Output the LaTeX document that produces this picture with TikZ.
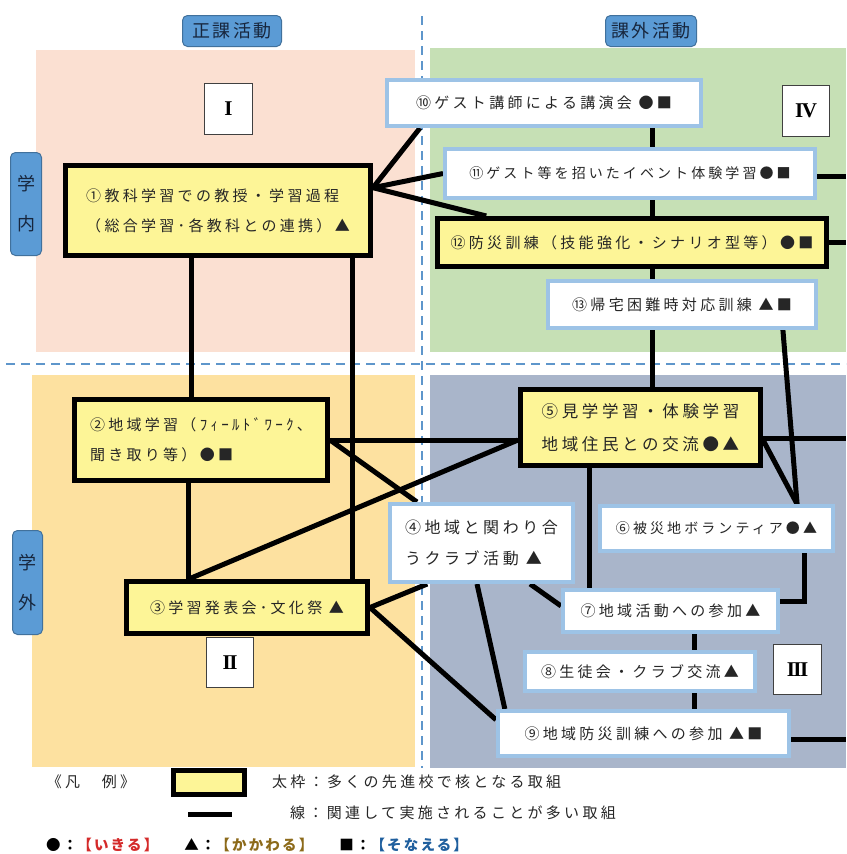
\documentclass[tikz,border=0pt]{standalone}
\usepackage{fontspec}
\setmainfont{Noto Sans CJK JP}
\newfontfamily\jp[LetterSpace=22]{Noto Sans CJK JP}
\newfontfamily\jpl[LetterSpace=15]{Noto Sans CJK JP}
\newfontfamily\jphd[LetterSpace=12]{Noto Sans CJK JP}
\newfontfamily\rmn{Liberation Serif}
\usetikzlibrary{calc}
\pgfdeclarelayer{bgl}
\pgfdeclarelayer{dashl}
\pgfdeclarelayer{linkl}
\pgfsetlayers{bgl,dashl,linkl,main}
\definecolor{pinkr}{HTML}{FBE0D2}
\definecolor{greenr}{HTML}{C6E0B5}
\definecolor{oranger}{HTML}{FDE1A0}
\definecolor{greyr}{HTML}{A9B5CA}
\definecolor{boxyel}{HTML}{FDF597}
\definecolor{lblue}{HTML}{9DC3E6}
\definecolor{hdblue}{HTML}{5B9BD5}
\definecolor{hdline}{HTML}{41719C}
\definecolor{hdtxt}{HTML}{17263D}
\definecolor{txt}{HTML}{262626}
\definecolor{dashc}{HTML}{5E96CB}
\definecolor{redc}{HTML}{D42A2A}
\definecolor{olivec}{HTML}{8C6A1A}
\definecolor{bluec}{HTML}{1F5F9E}
\tikzset{
  core/.style={draw=black, line width=5pt, fill=boxyel, inner sep=0pt, align=left, text=txt},
  sub/.style={draw=lblue, line width=4pt, fill=white, inner sep=0pt, align=left, text=txt},
  romanbox/.style={draw=black!75, line width=1.2pt, fill=white, inner sep=0pt, text=black, font=\rmn\bfseries\fontsize{21}{21}\selectfont},
  headbox/.style={draw=hdline, line width=1pt, fill=hdblue, rounded corners=5pt, inner sep=0pt, text=hdtxt, font=\jphd\fontsize{18}{18}\selectfont},
  vheadbox/.style={headbox, align=center, font=\jphd\fontsize{18}{40}\selectfont},
  sz/.style 2 args={minimum width=#1, minimum height=#2},
  link/.style={line width=5pt, draw=black},
  dashline/.style={draw=dashc, line width=2.5pt, dash pattern=on 9pt off 6pt},
  ftx/.style={font=\jp\fontsize{15}{30}\selectfont},
  ftxs/.style={font=\jp\fontsize{14}{30}\selectfont},
  ftxl/.style={font=\jp\fontsize{16.5}{33}\selectfont},
  ftxm/.style={font=\jp\fontsize{16}{31}\selectfont},
  lgtext/.style={inner sep=0pt, text=txt, font=\jp\fontsize{15}{20}\selectfont},
}
\begin{document}
\begin{tikzpicture}[x=1pt,y=-1pt]
\useasboundingbox (0,0) rectangle (846,854);
\begin{pgfonlayer}{bgl}
\fill[white] (0,0) rectangle (846,854);
\fill[pinkr] (36,50) rectangle (415,352);
\fill[greenr] (430,48) rectangle (846,352);
\fill[oranger] (32,375) rectangle (415,767);
\fill[greyr] (430,375) rectangle (846,768);
\end{pgfonlayer}
\begin{pgfonlayer}{dashl}
\coordinate (dv1) at (422,16);
\coordinate (dv2) at (422,768);
\coordinate (dh1) at (6,364);
\coordinate (dh2) at (846,364);
\draw[dashline] (dv1) -- (dv2);
\draw[dashline] (dh1) -- (dh2);
\end{pgfonlayer}

% headers
\node[headbox, sz={99pt}{31pt}] (hseika) at (232,31) {正課活動};
\node[headbox, sz={91pt}{31pt}] (hkagai) at (651,31) {課外活動};
\node[vheadbox, sz={31pt}{103pt}] (hnai) at (26,204) {学\\内};
\node[vheadbox, sz={30pt}{104pt}] (hgai) at (27.5,582.5) {学\\外};

% roman numerals
\node[romanbox, sz={48pt}{51pt}] (r1) at (228.5,109) {I};
\node[romanbox, sz={47pt}{51pt}] (r4) at (806,111) {I\kern-1.5pt V};
\node[romanbox, sz={47pt}{50pt}] (r2) at (230,662.5) {I\kern-1.5pt I};
\node[romanbox, sz={48pt}{50pt}] (r3) at (797.5,669.5) {I\kern-1.5pt I\kern-1.5pt I};

% activity boxes
\node[core, ftx, sz={305pt}{90pt}] (n1) at (218,210.5) {①教科学習での教授・学習過程\\（総合学習･各教科との連携）▲};
\node[core, ftx, sz={253pt}{81pt}] (n2) at (201,440) {②地域学習（ﾌｨｰﾙﾄﾞﾜｰｸ、\\聞き取り等）●■};
\node[core, ftx, sz={241pt}{52pt}] (n3) at (247,607.5) {③学習発表会･文化祭 ▲};
\node[sub, ftxm, sz={183pt}{78pt}] (n4) at (481.5,543) {④地域と関わり合\\うクラブ活動 ▲};
\node[core, ftxl, sz={240pt}{76pt}] (n5) at (640.5,427.5) {⑤見学学習・体験学習\\地域住民との交流●▲};
\node[sub, ftxs, sz={233pt}{45pt}] (n6) at (716.5,528.5) {⑥被災地ボランティア●▲};
\node[sub, ftx, sz={215pt}{42pt}] (n7) at (670.5,611) {⑦地域活動への参加▲};
\node[sub, ftx, sz={230pt}{39pt}] (n8) at (640,671.5) {⑧生徒会・クラブ交流▲};
\node[sub, ftx, sz={291pt}{45pt}] (n9) at (643.5,733.5) {⑨地域防災訓練への参加 ▲■};
\node[sub, ftx, sz={314pt}{46pt}] (n10) at (544,103) {⑩ゲスト講師による講演会 ●■};
\node[sub, ftxs, sz={370pt}{49pt}] (n11) at (630,173.5) {⑪ゲスト等を招いたイベント体験学習●■};
\node[core, ftx, sz={389pt}{48pt}] (n12) at (632,242.5) {⑫防災訓練（技能強化・シナリオ型等）●■};
\node[sub, ftx, sz={268pt}{47pt}] (n13) at (682,304.5) {⑬帰宅困難時対応訓練 ▲■};

\begin{pgfonlayer}{linkl}
% fan from 1
\coordinate (p1r) at ($(n1.north east)!0.26!(n1.south east)$);
\draw[link] (p1r) -- ($(n10.south west)!0.11!(n10.south east)$);
\draw[link] (p1r) -- (n11.west);
\draw[link] (p1r) -- ($(n12.north west)!0.13!(n12.north east)$);
% verticals in left column
\coordinate (p1a) at ($(n1.south west)!0.416!(n1.south east)$);
\draw[link] (p1a) -- (p1a |- n2.north);
\coordinate (p1b) at ($(n1.south west)!0.935!(n1.south east)$);
\draw[link] (p1b) -- (p1b |- n3.north);
\coordinate (p2b) at ($(n2.south west)!0.453!(n2.south east)$);
\draw[link] (p2b) -- (p2b |- n3.north);
% 3 - 5
\coordinate (p3t) at (p2b |- n3.north);
\coordinate (p5l) at ($(n5.north west)!0.654!(n5.south west)$);
\draw[link] (p3t) -- (p5l);
% 2 - 5, 2 - 4
\draw[link] (n2.east) -- (n2.east -| n5.west);
\draw[link] (n2.east) -- ($(n4.north west)!0.155!(n4.north east)$);
% 3 - 4, 3 - 9
\draw[link] (n3.east) -- ($(n4.south west)!0.21!(n4.south east)$);
\draw[link] (n3.east) -- ($(n9.north west)!0.22!(n9.south west)$);
% 4 - 9, 4 - 7
\draw[link] ($(n4.south west)!0.476!(n4.south east)$) -- ($(n9.north west)!0.03!(n9.north east)$);
\draw[link] ($(n4.south west)!0.76!(n4.south east)$) -- ($(n7.north west)!0.39!(n7.south west)$);
% 5 - 7
\coordinate (p5b) at ($(n5.south west)!0.29!(n5.south east)$);
\draw[link] (p5b) -- (p5b |- n7.north);
% 5 - 6, 13 - 6
\coordinate (p6t) at ($(n6.north west)!0.84!(n6.north east)$);
\draw[link] ($(n5.north east)!0.654!(n5.south east)$) -- (p6t);
\draw[link] ($(n13.south west)!0.871!(n13.south east)$) -- (p6t);
% 6 - 7 elbow
\draw[link] ($(n6.south west)!0.873!(n6.south east)$) |- ($(n7.north east)!0.30!(n7.south east)$);
% chain 10-11-12-13-5
\coordinate (px) at ($(n10.south west)!0.84!(n10.south east)$);
\draw[link] (px) -- (px |- n11.north);
\draw[link] (px |- n11.south) -- (px |- n12.north);
\draw[link] (px |- n12.south) -- (px |- n13.north);
\draw[link] (px |- n13.south) -- (px |- n5.north);
% 7 - 8 - 9
\coordinate (p7b) at ($(n7.south west)!0.61!(n7.south east)$);
\draw[link] (p7b) -- (p7b |- n8.north);
\draw[link] (p7b |- n8.south) -- (p7b |- n9.north);
% lines to the right edge
\coordinate (rim) at (846,0);
\coordinate (q11) at ($(n11.north east)!0.55!(n11.south east)$);
\draw[link] (q11) -- (q11 -| rim);
\draw[link] (n12.east) -- (n12.east -| rim);
\coordinate (q5) at ($(n5.north east)!0.63!(n5.south east)$);
\draw[link] (q5) -- (q5 -| rim);
\coordinate (q9) at ($(n9.north east)!0.63!(n9.south east)$);
\draw[link] (q9) -- (q9 -| rim);
\end{pgfonlayer}

% legend
\node[lgtext, anchor=center] (lg0) at (91,782) {《凡　例》};
\node[core, sz={71pt}{24pt}] (lgbox) at (209,782.5) {};
\node[lgtext, anchor=west] (lg1) at (272,782) {太枠：多くの先進校で核となる取組};
\coordinate (lga) at (188,814);
\coordinate (lgb) at (232,814);
\draw[link] (lga) -- (lgb);
\node[lgtext, anchor=west] (lg2) at (290,813) {線：関連して実施されることが多い取組};
\node[inner sep=0pt, anchor=west, text=black, font=\jpl\bfseries\fontsize{14.5}{20}\selectfont] (lg3) at (46,845)
  {●：\textcolor{redc}{【いきる】}\hspace{26pt}▲：\textcolor{olivec}{【かかわる】}\hspace{26pt}■：\textcolor{bluec}{【そなえる】}};
\end{tikzpicture}
\end{document}
